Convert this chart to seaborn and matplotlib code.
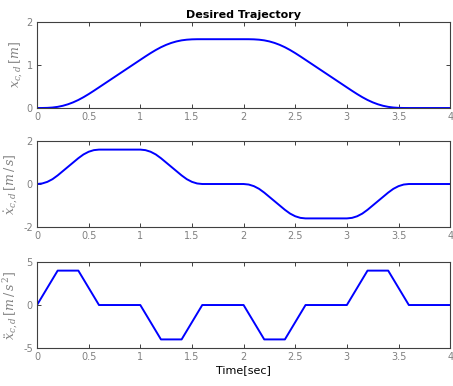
import numpy as np
import pandas as pd
import matplotlib
matplotlib.use("Agg")
import matplotlib.pyplot as plt
import seaborn as sns

# ---- data ----
time = [0.00, 0.05, 0.10, 0.15, 0.20, 0.25, 0.30, 0.35, 0.40, 0.45, 0.50, 0.55, 0.60,
        0.65, 0.70, 0.75, 0.80, 0.85, 0.90, 0.95, 1.00,
        1.05, 1.10, 1.15, 1.20, 1.25, 1.30, 1.35, 1.40, 1.45, 1.50, 1.55, 1.60,
        1.65, 1.70, 1.75, 1.80, 1.85, 1.90, 1.95, 2.00,
        2.05, 2.10, 2.15, 2.20, 2.25, 2.30, 2.35, 2.40, 2.45, 2.50, 2.55, 2.60,
        2.65, 2.70, 2.75, 2.80, 2.85, 2.90, 2.95, 3.00,
        3.05, 3.10, 3.15, 3.20, 3.25, 3.30, 3.35, 3.40, 3.45, 3.50, 3.55, 3.60,
        3.65, 3.70, 3.75, 3.80, 3.85, 3.90, 3.95, 4.00]
position = [0.0, 0.0004, 0.0033, 0.0113, 0.0267, 0.0517, 0.0867, 0.1317, 0.1867, 0.2513, 0.3233, 0.4004, 0.48,
            0.56, 0.64, 0.72, 0.80, 0.88, 0.96, 1.04, 1.12,
            1.1996, 1.2767, 1.3487, 1.4133, 1.4683, 1.5133, 1.5483, 1.5733, 1.5887, 1.5967, 1.5996, 1.6,
            1.6, 1.6, 1.6, 1.6, 1.6, 1.6, 1.6, 1.6,
            1.5996, 1.5967, 1.5887, 1.5733, 1.5483, 1.5133, 1.4683, 1.4133, 1.3487, 1.2767, 1.1996, 1.12,
            1.04, 0.96, 0.88, 0.80, 0.72, 0.64, 0.56, 0.48,
            0.4004, 0.3233, 0.2513, 0.1867, 0.1317, 0.0867, 0.0517, 0.0267, 0.0113, 0.0033, 0.0004, 0.0,
            0.0, 0.0, 0.0, 0.0, 0.0, 0.0, 0.0, 0.0]
velocity = [0.0, 0.025, 0.1, 0.225, 0.4, 0.6, 0.8, 1.0, 1.2, 1.375, 1.5, 1.575, 1.6,
            1.6, 1.6, 1.6, 1.6, 1.6, 1.6, 1.6, 1.6,
            1.575, 1.5, 1.375, 1.2, 1.0, 0.8, 0.6, 0.4, 0.225, 0.1, 0.025, 0.0,
            0.0, 0.0, 0.0, 0.0, 0.0, 0.0, 0.0, 0.0,
            -0.025, -0.1, -0.225, -0.4, -0.6, -0.8, -1.0, -1.2, -1.375, -1.5, -1.575, -1.6,
            -1.6, -1.6, -1.6, -1.6, -1.6, -1.6, -1.6, -1.6,
            -1.575, -1.5, -1.375, -1.2, -1.0, -0.8, -0.6, -0.4, -0.225, -0.1, -0.025, 0.0,
            0.0, 0.0, 0.0, 0.0, 0.0, 0.0, 0.0, 0.0]
acc_time = [0.0, 0.2, 0.4, 0.6, 1.0, 1.2, 1.4, 1.6, 2.0, 2.2, 2.4, 2.6, 3.0, 3.2, 3.4, 3.6, 4.0]
acceleration = [0, 4, 4, 0, 0, -4, -4, 0, 0, -4, -4, 0, 0, 4, 4, 0, 0]

xticks = [0, 0.5, 1, 1.5, 2, 2.5, 3, 3.5, 4]
xticklabels = ["0", "0.5", "1", "1.5", "2", "2.5", "3", "3.5", "4"]
yticks_list = [[0, 1, 2], [-2, 0, 2], [-5, 0, 5]]
ylims = [(0, 2), (-2, 2), (-5, 5)]
ylabels = [r"$x_{c,d}\,[m]$", r"$\dot{x}_{c,d}\,[m\,/\,s]$", r"$\ddot{x}_{c,d}\,[m\,/\,s^{\,2}]$"]

sns.set_style("ticks")
plt.rcParams["font.family"] = ["DejaVu Sans"]
plt.rcParams["mathtext.fontset"] = "dejavuserif"
plt.rcParams["axes.unicode_minus"] = False

fig = plt.figure(figsize=(4.53, 3.86), dpi=100)
bottoms = [0.7202, 0.4119, 0.0984]
axes = [fig.add_axes([0.0817, b, 0.912, 0.2228]) for b in bottoms]

dfs = [
    pd.DataFrame({"t": time, "y": position}),
    pd.DataFrame({"t": time, "y": velocity}),
    pd.DataFrame({"t": acc_time, "y": acceleration}),
]

gray = "#808080"
for i, (ax, df) in enumerate(zip(axes, dfs)):
    sns.lineplot(data=df, x="t", y="y", ax=ax, color="#0000ff", linewidth=1.4)
    ax.set_xlim(0, 4)
    ax.set_ylim(*ylims[i])
    ax.set_xticks(xticks)
    ax.set_xticklabels(xticklabels)
    ax.set_yticks(yticks_list[i])
    ax.tick_params(direction="in", top=True, right=True, length=3, width=0.7,
                   labelsize=7, labelcolor=gray, color="#404040", pad=3)
    for s in ax.spines.values():
        s.set_visible(True)
        s.set_color("#404040")
        s.set_linewidth(0.8)
    ax.set_ylabel(ylabels[i], fontsize=9, color=gray, labelpad=2)
    ax.set_xlabel("")

axes[0].set_title("Desired Trajectory", fontsize=8, fontweight="bold", color="black", pad=3)
axes[2].set_xlabel("Time[sec]", fontsize=8, color="black", labelpad=2)

fig.savefig("out.png", dpi=100)
